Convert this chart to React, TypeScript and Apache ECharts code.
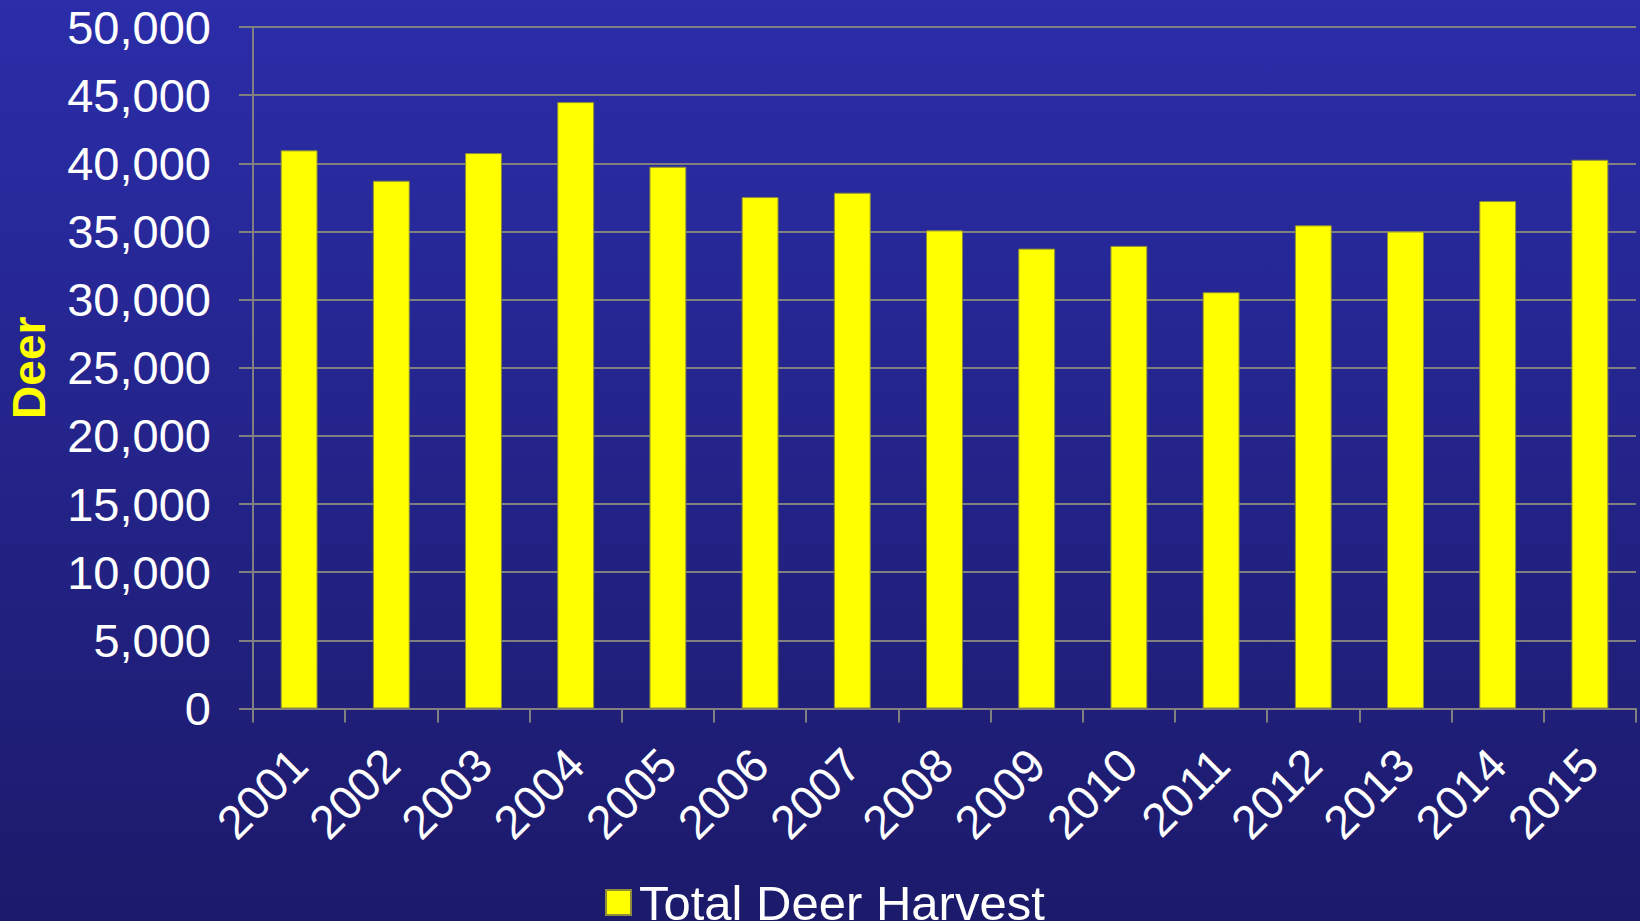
import React, { useEffect, useRef } from "react";
import * as echarts from "echarts";

const years = ["2001", "2002", "2003", "2004", "2005", "2006", "2007", "2008", "2009", "2010", "2011", "2012", "2013", "2014", "2015"];
const harvest = [40950, 38720, 40750, 44490, 39750, 37520, 37840, 35080, 33740, 33940, 30540, 35450, 35000, 37230, 40260];
const seriesName = "Total Deer Harvest";
const yAxisName = "Deer";

const FONT = "'Liberation Sans', Arial, sans-serif";

export default function App() {
  const ref = useRef<HTMLDivElement>(null);
  useEffect(() => {
    document.body.style.margin = "0";
    const chart = echarts.init(ref.current!, null, { renderer: "svg" });
    chart.setOption({
      animation: false,
      backgroundColor: new echarts.graphic.LinearGradient(0, 0, 0, 1, [
        { offset: 0, color: "#2B2DA9" },
        { offset: 1, color: "#1C1A6A" },
      ]),
      textStyle: { fontFamily: FONT },
      grid: { left: 253, right: 4, top: 27, bottom: 212.5, containLabel: false, outerBoundsMode: "none" },
      legend: {
        data: [seriesName],
        left: 600,
        top: 873,
        itemWidth: 25,
        itemHeight: 25,
        icon: "rect",
        textStyle: { color: "#FFFFFF", fontSize: 49, fontFamily: FONT, padding: [0, 0, 0, 3] },
      },
      xAxis: {
        type: "category",
        data: years,
        axisLine: { show: true, lineStyle: { color: "#808080", width: 2 } },
        axisTick: { show: true, length: 14, alignWithLabel: false, lineStyle: { color: "#808080", width: 2 } },
        axisLabel: { rotate: 45, fontSize: 47, color: "#FFFFFF", margin: 48, fontFamily: FONT, interval: 0 },
        splitLine: { show: false },
      },
      yAxis: {
        type: "value",
        min: 0,
        max: 50000,
        interval: 5000,
        name: yAxisName,
        nameLocation: "middle",
        nameRotate: 90,
        nameGap: 201,
        nameTextStyle: { color: "#FFFF00", fontSize: 46, fontWeight: "bold", fontFamily: FONT },
        axisLine: { show: true, lineStyle: { color: "#808080", width: 2 } },
        axisTick: { show: true, length: 14, lineStyle: { color: "#808080", width: 2 } },
        axisLabel: { fontSize: 47, color: "#FFFFFF", margin: 42, fontFamily: FONT },
        splitLine: { show: true, lineStyle: { color: "#808080", width: 2 } },
      },
      series: [
        {
          name: seriesName,
          type: "bar",
          data: harvest,
          barWidth: "40%",
          itemStyle: { color: "#FFFF00", borderColor: "#8C8C3A", borderWidth: 1 },
        },
      ],
    });
    return () => chart.dispose();
  }, []);
  return <div ref={ref} style={{ position: "absolute", left: 0, top: 0, width: 1640, height: 921 }} />;
}
